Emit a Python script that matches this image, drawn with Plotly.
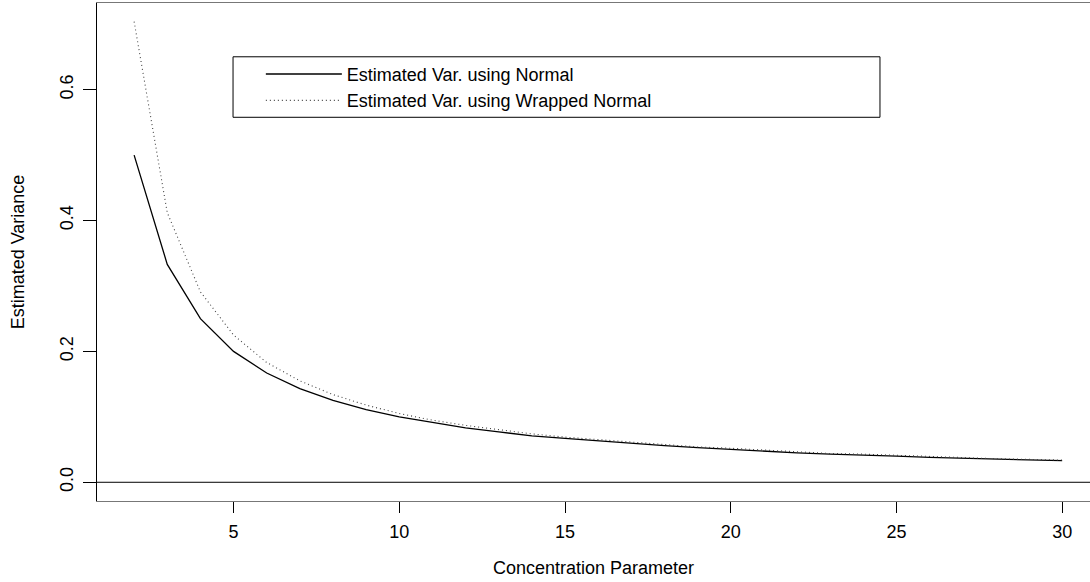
import plotly.graph_objects as go

concentration = list(range(2, 31))
var_normal = [0.500, 0.333, 0.250, 0.200, 0.167, 0.143, 0.125, 0.111, 0.100, 0.091,
              0.083, 0.077, 0.071, 0.067, 0.063, 0.059, 0.056, 0.053, 0.050, 0.048,
              0.045, 0.043, 0.042, 0.040, 0.038, 0.037, 0.036, 0.034, 0.033]
var_wrapped = [0.704, 0.412, 0.291, 0.225, 0.183, 0.155, 0.134, 0.118, 0.105, 0.095,
               0.087, 0.080, 0.074, 0.069, 0.065, 0.061, 0.058, 0.054, 0.052, 0.049,
               0.046, 0.044, 0.043, 0.041, 0.039, 0.038, 0.036, 0.035, 0.034]
x_ticks = [5, 10, 15, 20, 25, 30]
y_ticks = [0.0, 0.2, 0.4, 0.6]
y_tick_labels = ["0.0", "0.2", "0.4", "0.6"]

FONT = "Liberation Sans, Arial, sans-serif"

fig = go.Figure()
fig.add_trace(go.Scatter(x=concentration, y=var_normal, mode="lines",
                         name="Estimated Var. using Normal",
                         line=dict(color="black", width=1.3)))
fig.add_trace(go.Scatter(x=concentration, y=var_wrapped, mode="lines",
                         name="Estimated Var. using Wrapped Normal",
                         line=dict(color="#444444", width=1.1, dash="1px,3px")))

fig.add_hline(y=0, line=dict(color="black", width=1))

# legend frame
fig.add_shape(type="rect", xref="paper", yref="paper",
              x0=0.137, x1=0.7885, y0=0.7705, y1=0.892,
              line=dict(color="black", width=1), fillcolor="rgba(0,0,0,0)", layer="below")

fig.update_layout(
    width=1090, height=582,
    margin=dict(l=97, r=0, t=3, b=81),
    paper_bgcolor="white", plot_bgcolor="white",
    font=dict(family=FONT, size=18, color="black"),
    showlegend=True,
    legend=dict(x=0.165, y=0.894, xanchor="left", yanchor="top",
                bgcolor="rgba(0,0,0,0)", borderwidth=0,
                font=dict(family=FONT, size=18, color="black"),
                itemwidth=76, tracegroupgap=0),
    xaxis=dict(range=[0.88, 30.84], tickvals=x_ticks, ticks="outside", ticklen=11,
               tickcolor="black", showgrid=False, zeroline=False, automargin=False,
               showline=True, mirror=True, linecolor="#777777", linewidth=1,
               ticklabelstandoff=3,
               title=dict(text="Concentration Parameter", standoff=20,
                          font=dict(family=FONT, size=18))),
    yaxis=dict(range=[-0.0286, 0.7324], tickvals=y_ticks, ticktext=y_tick_labels,
               ticks="outside", ticklen=13, tickcolor="black", tickangle=-90,
               showgrid=False, zeroline=False, showline=True, linecolor="black",
               linewidth=1, ticklabelstandoff=3, automargin=False,
               title=dict(text="Estimated Variance", standoff=27,
                          font=dict(family=FONT, size=18))),
)

fig.write_html("out.html", config={"displayModeBar": False},
               post_script="document.body.style.margin='0';document.body.style.overflow='hidden';")
